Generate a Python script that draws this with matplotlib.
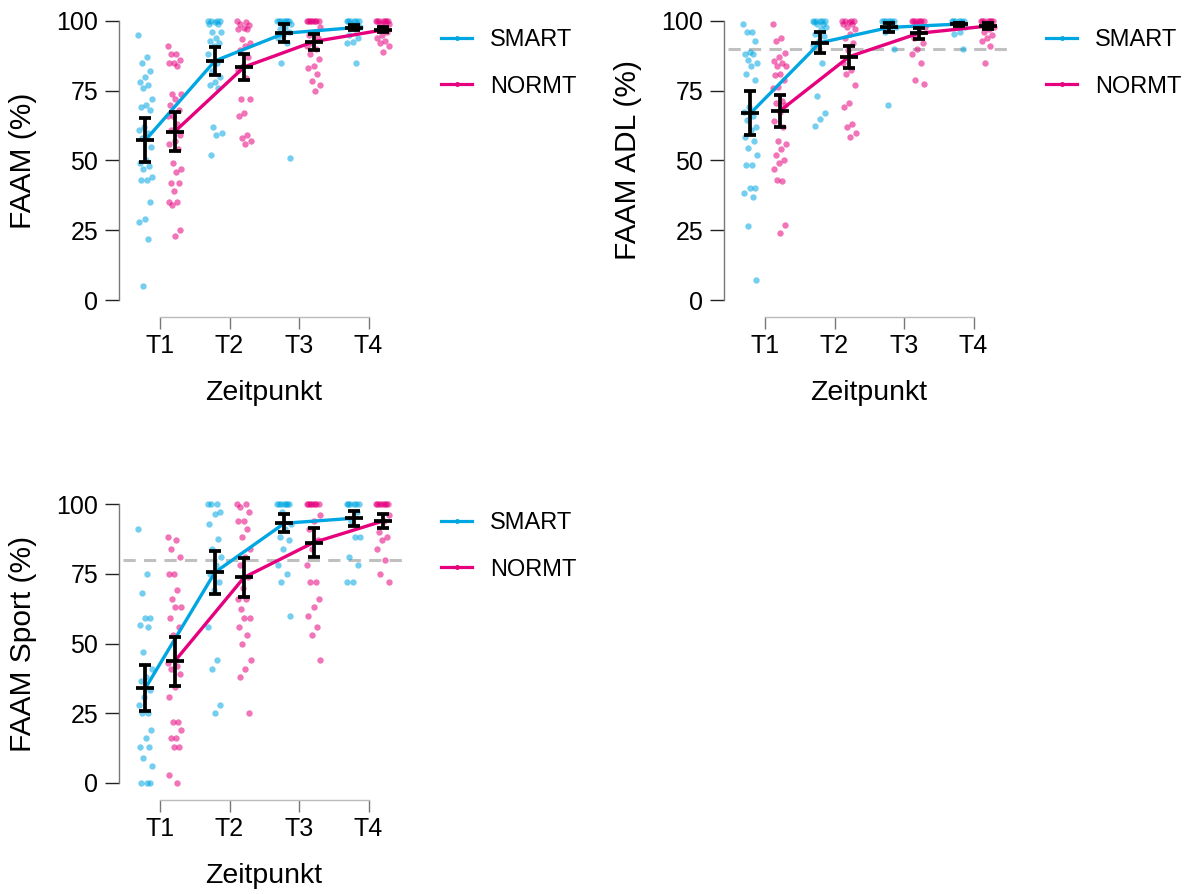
import numpy as np
import matplotlib
matplotlib.use("Agg")
import matplotlib.pyplot as plt
from matplotlib.lines import Line2D

plt.rcParams['font.family'] = ['Liberation Sans', 'DejaVu Sans']

times = ["T1", "T2", "T3", "T4"]
groups = ["SMART", "NORMT"]
c_smart = "#00A6E2"
c_normt = "#E6007E"

# FAAM gesamt
faam_smart = [
    [95, 87, 85, 82, 80, 78, 77, 76, 72, 70, 69, 68, 62, 61, 60, 58, 55, 50, 49, 48, 47, 44, 43, 43, 35, 29, 28, 22, 5],
    [100, 100, 100, 100, 99.5, 99, 99, 96, 96, 94, 93, 92, 91, 88, 85, 82, 80, 78, 77, 76, 62, 60, 59, 52],
    [100, 100, 100, 100, 100, 100, 100, 99, 99, 98, 97, 96, 95, 94, 92, 85, 51],
    [100, 100, 100, 100, 100, 100, 99, 99, 98, 97, 95, 94, 92.5, 92, 85],
]
faam_normt = [
    [91, 88, 88, 86, 85, 85, 84, 74, 74, 72, 70, 68, 66, 66, 63, 61, 59, 57, 56, 54, 49, 47, 46, 42, 42, 39, 35, 35, 34, 25, 23],
    [100, 99.5, 99, 98.5, 97.5, 97, 97, 93.5, 92, 91, 89.5, 87, 84, 82.5, 79.5, 72, 72, 67, 66, 59, 58, 57, 56],
    [100, 100, 100, 100, 100, 100, 100, 100, 98, 96, 95, 94, 92, 91, 90, 88, 86.5, 84, 83, 81, 78.5, 77, 75],
    [100, 100, 100, 100, 100, 100, 100, 99, 99, 98, 97, 96, 95, 94, 93, 92, 91, 89],
]
faam_smart_mean = [57.3, 85.7, 95.6, 97.6]
faam_smart_err = [7.8, 4.9, 3.2, 1.0]
faam_normt_mean = [60.3, 83.5, 92.6, 96.8]
faam_normt_err = [7.0, 4.6, 2.9, 0.9]

# FAAM ADL
adl_smart = [
    [99, 96, 96, 93, 89, 88, 88, 86, 85, 84, 81, 79, 69, 67.5, 66, 64.5, 62, 61, 58.5, 57, 54.5, 52, 48.5, 48.5, 40, 40, 38.5, 37, 26.5, 7],
    [100, 100, 100, 100, 100, 99.5, 99, 99, 98, 97, 95.5, 94.5, 93, 91.5, 85, 73, 67, 65, 62.5],
    [100, 100, 100, 100, 100, 100, 99.5, 99, 98, 97, 96, 90, 70],
    [100, 100, 100, 100, 100, 100, 99.5, 99, 98, 96, 95.5, 90],
]
adl_normt = [
    [99, 94, 93, 88.5, 87, 85.5, 85, 84, 84, 81, 80.5, 79, 76.5, 76, 71.5, 70.5, 70, 67.5, 64, 62, 57, 56, 54, 52, 50, 49, 47, 42.5, 43, 27, 24],
    [100, 100, 100, 100, 99.5, 99, 99, 98, 97, 95.5, 94, 92, 89.5, 85, 82.5, 81, 77, 70.5, 69, 63, 62, 60, 58.5],
    [100, 100, 100, 100, 100, 100, 100, 99, 98, 96, 94, 92, 90, 88, 85, 79, 77.5],
    [100, 100, 100, 100, 100, 100, 100, 99, 98, 97, 96, 95, 94, 93, 91, 85],
]
adl_smart_mean = [66.9, 92.2, 97.7, 98.9]
adl_smart_err = [7.9, 3.7, 1.7, 0.7]
adl_normt_mean = [67.7, 87.2, 95.6, 98.2]
adl_normt_err = [5.7, 4.0, 2.0, 1.0]

# FAAM Sport
sport_smart = [
    [91, 75, 68, 59, 59, 56.5, 56, 47, 41, 38, 36.5, 33.5, 31, 28, 25, 25, 19, 16, 13, 13, 9, 6, 0, 0, 0],
    [100, 100, 100, 97, 96.5, 93, 87.5, 84, 81, 78, 75, 72, 69, 56, 44, 41, 28, 25],
    [100, 100, 100, 100, 100, 100, 100, 97, 93, 91, 88, 87, 84, 78, 75, 72, 60],
    [100, 100, 100, 100, 100, 100, 97, 94, 88, 88, 81, 78, 72, 72],
]
sport_normt = [
    [88, 87, 84, 81, 75, 75, 69, 66, 63, 63, 59, 56, 53, 43, 42, 41, 39, 34.5, 31, 22, 22, 19, 16, 16, 13, 13, 3, 0],
    [100, 100, 99, 97, 94, 94, 91, 88, 84, 81, 78, 74, 70, 66, 66, 62.5, 59, 59, 56, 53, 50, 44, 41, 38, 25],
    [100, 100, 100, 100, 100, 100, 100, 100, 96, 94, 91, 87, 84, 78, 72, 72, 66, 63, 60, 56, 53, 44],
    [100, 100, 100, 100, 100, 100, 100, 100, 96, 94, 90, 88, 87, 84, 80, 75, 72],
]
sport_smart_mean = [34.0, 75.5, 93.1, 94.9]
sport_smart_err = [8.3, 7.6, 3.3, 2.7]
sport_normt_mean = [43.6, 73.7, 86.2, 93.9]
sport_normt_err = [8.8, 6.9, 5.2, 2.4]

W, H = 1185, 894
fig = plt.figure(figsize=(W / 100, H / 100), dpi=100)

XMIN, XMAX = 0.41, 4.55
AXW = (XMAX - XMIN) * 69.5


def make_ax(left_px, top_px):
    # top_px = pixel row of y=100, axes height 279 px
    return fig.add_axes([left_px / W, (H - top_px - 279) / H, AXW / W, 279 / H])


def panel(ax, smart, normt, sm, se, nm, ne, ylabel, ref=None):
    x = np.arange(1, 5)
    ax.set_xlim(XMIN, XMAX)
    ax.set_ylim(0, 100)
    if ref is not None:
        ax.hlines(ref, 0.47, 4.53, colors="#c0c0c0", lw=2.2, ls=(0, (4, 2.7)), zorder=1)
    for data, mean, err, col, dx in [(smart, sm, se, c_smart, -0.21), (normt, nm, ne, c_normt, 0.21)]:
        for i, vals in enumerate(data):
            n = len(vals)
            jit = (((np.arange(n) * 0.618034) % 1) - 0.5) * 0.2
            ax.scatter(x[i] + dx + jit, vals, s=21, color=col, alpha=0.55, lw=0, zorder=2, clip_on=False)
        ax.plot(x + dx, mean, color=col, lw=2.4, zorder=3, solid_capstyle="round")
        ax.errorbar(x + dx, mean, yerr=err, fmt="none", ecolor="black", elinewidth=2.7,
                    capsize=4.5, capthick=2.7, zorder=4)
        ax.plot(x + dx, mean, ls="none", marker="_", ms=12.5, mew=2.7, color="black", zorder=4)

    for s in ["top", "right"]:
        ax.spines[s].set_visible(False)
    ax.spines["left"].set_bounds(0, 100)
    ax.spines["left"].set_color("#777777")
    ax.spines["left"].set_linewidth(1.0)
    ax.spines["bottom"].set_bounds(1, 4)
    ax.spines["bottom"].set_position(("outward", 12))
    ax.spines["bottom"].set_color("#bbbbbb")
    ax.spines["bottom"].set_linewidth(1.0)
    ax.set_yticks([0, 25, 50, 75, 100])
    ax.set_xticks(x)
    ax.set_xticklabels(times)
    ax.tick_params(axis="y", length=10, width=1.0, color="#222222", pad=5, labelsize=18)
    ax.tick_params(axis="x", length=8.6, width=1.0, color="#777777", pad=4, labelsize=18)
    ax.set_ylabel(ylabel, fontsize=21.5)
    ax.yaxis.set_label_coords(-0.285, 0.5)
    ax.set_xlabel("Zeitpunkt", fontsize=20.5)
    ax.xaxis.set_label_coords(0.504, -0.285)
    ax.patch.set_alpha(0)

    handles = [Line2D([], [], color=c_smart, lw=2.3, marker="o", ms=2.5),
               Line2D([], [], color=c_normt, lw=2.3, marker="o", ms=2.5)]
    ax.legend(handles, groups, loc="upper left", bbox_to_anchor=(1.12, 0.971),
              frameon=False, fontsize=17, handlelength=1.3, handletextpad=0.75,
              labelspacing=1.04, borderpad=0, borderaxespad=0)


ax1 = make_ax(119, 21)
panel(ax1, faam_smart, faam_normt, faam_smart_mean, faam_smart_err,
      faam_normt_mean, faam_normt_err, "FAAM (%)")

ax2 = make_ax(724, 21)
panel(ax2, adl_smart, adl_normt, adl_smart_mean, adl_smart_err,
      adl_normt_mean, adl_normt_err, "FAAM ADL (%)", ref=90)

ax3 = make_ax(119, 504)
panel(ax3, sport_smart, sport_normt, sport_smart_mean, sport_smart_err,
      sport_normt_mean, sport_normt_err, "FAAM Sport (%)", ref=80)

fig.savefig("out.png", dpi=100)
